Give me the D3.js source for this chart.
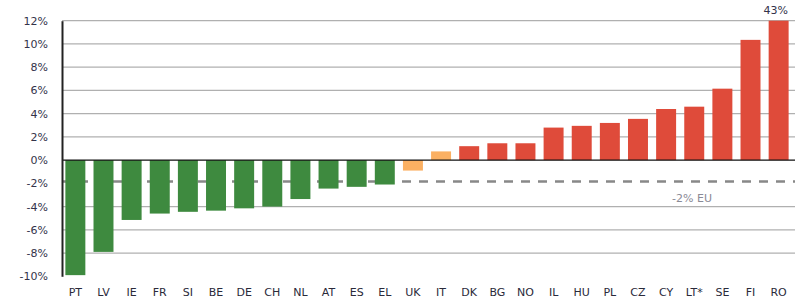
<!DOCTYPE html>
<meta charset="utf-8">
<style>
body { margin: 0; background: #fff; }
text { font-family: "DejaVu Sans", sans-serif; }
.tick text { font-size: 11px; fill: #33334a; }
.grid line { stroke: #b0b0b0; stroke-width: 1.3px; }
</style>
<svg width="798" height="302"></svg>
<script src="https://d3js.org/d3.v7.min.js"></script>
<script>
var countries = ["PT","LV","IE","FR","SI","BE","DE","CH","NL","AT","ES","EL","UK","IT","DK","BG","NO","IL","HU","PL","CZ","CY","LT*","SE","FI","RO"];
var values = [-9.9,-7.9,-5.15,-4.6,-4.45,-4.35,-4.15,-4.0,-3.35,-2.45,-2.3,-2.1,-0.9,0.75,1.2,1.45,1.45,2.8,2.95,3.2,3.55,4.4,4.6,6.15,10.35,12];
var groups = ["down","down","down","down","down","down","down","down","down","down","down","down","mid","mid","up","up","up","up","up","up","up","up","up","up","up","up"];
var yTicks = [12,10,8,6,4,2,0,-2,-4,-6,-8,-10];
var euValue = -1.85;
var euLabel = "-2% EU";
var topLabel = "43%";

var colors = {down: "#3e8a3f", mid: "#fbb062", up: "#df4b3a"};

var svg = d3.select("svg");

var x = d3.scaleBand()
    .domain(countries)
    .range([62, 792])
    .paddingInner(0.29)
    .paddingOuter(0.12);

var y = d3.scaleLinear()
    .domain([-10, 12])
    .range([276.3, 20.7]);

// gridlines
svg.append("g")
    .attr("class", "grid")
    .selectAll("line")
    .data(yTicks.filter(function(d) { return d !== 0 && d !== -2 && d !== -10; }))
    .enter().append("line")
    .attr("x1", 62).attr("x2", 795)
    .attr("y1", function(d) { return y(d); })
    .attr("y2", function(d) { return y(d); });

// EU average dashed (behind bars)
svg.append("line")
    .attr("x1", 62).attr("x2", 795)
    .attr("y1", y(euValue)).attr("y2", y(euValue))
    .attr("stroke", "#888").attr("stroke-width", 2.5)
    .attr("stroke-dasharray", "9,8");

// bars
svg.append("g")
    .selectAll("rect")
    .data(countries)
    .enter().append("rect")
    .attr("x", function(d) { return x(d); })
    .attr("width", x.bandwidth())
    .attr("y", function(d, i) { return y(Math.max(0, values[i])); })
    .attr("height", function(d, i) { return Math.abs(y(values[i]) - y(0)); })
    .attr("fill", function(d, i) { return colors[groups[i]]; });

// zero line
svg.append("line")
    .attr("x1", 62).attr("x2", 795)
    .attr("y1", y(0)).attr("y2", y(0))
    .attr("stroke", "#111").attr("stroke-width", 1.3);

svg.append("text")
    .attr("x", 692).attr("y", y(euValue) + 20)
    .attr("text-anchor", "middle")
    .attr("font-size", 11)
    .attr("fill", "#8a8a96")
    .text(euLabel);

// y axis
var yAxis = svg.append("g")
    .attr("transform", "translate(62,0)")
    .call(d3.axisLeft(y).tickValues(yTicks).tickSize(0).tickPadding(14)
        .tickFormat(function(d) { return d + "%"; }));
yAxis.select(".domain").attr("stroke", "#222").attr("stroke-width", 2);

// x labels
svg.append("g")
    .selectAll("text")
    .data(countries)
    .enter().append("text")
    .attr("x", function(d) { return x(d) + x.bandwidth() / 2; })
    .attr("y", 296)
    .attr("text-anchor", "middle")
    .attr("font-size", 11)
    .attr("fill", "#2a2a3a")
    .text(function(d) { return d; });

// label above clipped bar
svg.append("text")
    .attr("x", x("RO") + x.bandwidth() / 2 - 3)
    .attr("y", 14)
    .attr("text-anchor", "middle")
    .attr("font-size", 11)
    .attr("fill", "#33334a")
    .text(topLabel);
</script>
